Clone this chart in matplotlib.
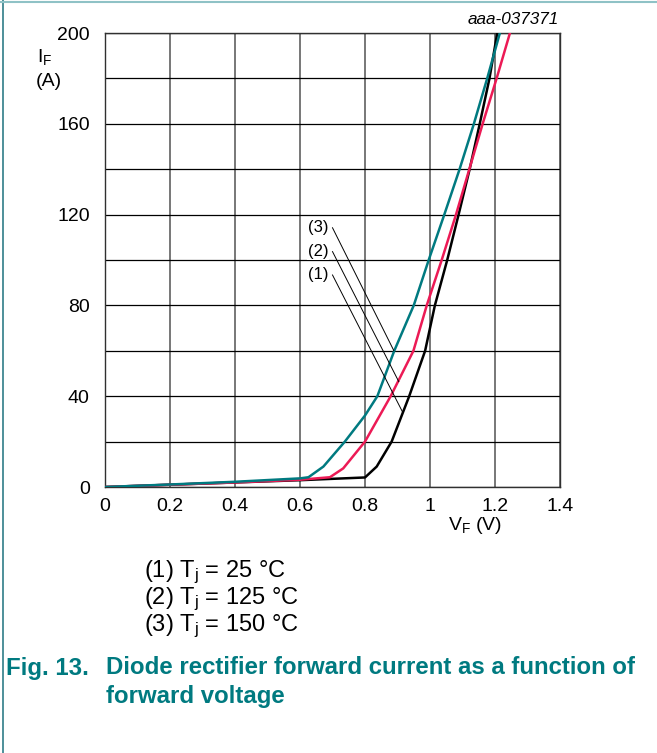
import matplotlib
matplotlib.use("Agg")
import matplotlib.pyplot as plt
from matplotlib.lines import Line2D

plt.rcParams['font.family'] = ['Liberation Sans', 'DejaVu Sans']
plt.rcParams['mathtext.fontset'] = 'custom'
plt.rcParams['mathtext.rm'] = 'Liberation Sans'
plt.rcParams['mathtext.it'] = 'Liberation Sans:italic'

# forward voltage (V) / forward current (A)
vf_25 = [0, 0.2, 0.4, 0.6, 0.8, 0.836, 0.882, 0.936, 0.985, 1.015, 1.053, 1.088, 1.122, 1.153, 1.183, 1.207]
if_25 = [0, 1.0, 2.0, 3.0, 4.2, 9, 20, 40, 60, 80, 100, 120, 140, 160, 180, 200]

vf_125 = [0, 0.2, 0.4, 0.6, 0.692, 0.733, 0.80, 0.879, 0.949, 0.990, 1.036, 1.080, 1.121, 1.162, 1.205, 1.246]
if_125 = [0, 1.0, 2.0, 3.2, 4.3, 8.2, 20, 40, 60, 80, 100, 120, 140, 160, 180, 200]

vf_150 = [0, 0.2, 0.4, 0.6, 0.626, 0.672, 0.738, 0.80, 0.838, 0.890, 0.950, 0.996, 1.044, 1.091, 1.135, 1.176, 1.215]
if_150 = [0, 1.1, 2.3, 3.8, 4.3, 9, 20, 31.5, 40, 60, 80, 100, 120, 140, 160, 180, 200]

curve_labels = ['(1)', '(2)', '(3)']
label_pos = [(0.655, 93.4), (0.655, 103.7), (0.655, 114.2)]
leader_start = [(0.70, 93.4), (0.70, 103.7), (0.70, 114.2)]
leader_end = [(0.915, 33.2), (0.904, 46.4), (0.889, 60)]

x_ticks = [0, 0.2, 0.4, 0.6, 0.8, 1.0, 1.2, 1.4]
x_ticklabels = ['0', '0.2', '0.4', '0.6', '0.8', '1', '1.2', '1.4']
y_ticks = [0, 40, 80, 120, 160, 200]
y_minor = [20, 60, 100, 140, 180]

legend_lines = ['(1) T$_\\mathrm{j}$ = 25 °C', '(2) T$_\\mathrm{j}$ = 125 °C', '(3) T$_\\mathrm{j}$ = 150 °C']

teal = '#007a80'
red = '#ec1a55'

fig = plt.figure(figsize=(6.57, 7.53), dpi=100)
ax = fig.add_axes([105 / 657, 1 - 487 / 753, 455 / 657, 454 / 753])

ax.plot(vf_25, if_25, color='black', lw=1.8, zorder=3)
ax.plot(vf_125, if_125, color=red, lw=1.8, zorder=3)
ax.plot(vf_150, if_150, color=teal, lw=1.8, zorder=3)

ax.set_xlim(0, 1.4)
ax.set_ylim(0, 200)
ax.set_xticks(x_ticks)
ax.set_xticklabels(x_ticklabels)
ax.set_yticks(y_ticks)
ax.set_yticks(y_minor, minor=True)
ax.tick_params(which='both', length=0, labelsize=14)
ax.tick_params(axis='x', pad=8)
ax.tick_params(axis='y', pad=11)
ax.grid(axis='x', color='#606060', lw=1.2)
ax.grid(axis='y', which='both', color='black', lw=0.9)
for s in ax.spines.values():
    s.set_color('#303030')
    s.set_linewidth(1.0)

# curve labels with leader lines
for lab, (tx, ty), (sx, sy), (ex, ey) in zip(curve_labels, label_pos, leader_start, leader_end):
    ax.text(tx, ty, lab, fontsize=12, ha='center', va='center', zorder=4,
            bbox=dict(facecolor='white', edgecolor='none', pad=0.5))
    ax.plot([sx, ex], [sy, ey], color='black', lw=0.7, zorder=4)

# axis titles
fig.text(37 / 657, 1 - 57 / 753, 'I$_\\mathrm{F}$', fontsize=14, ha='left', va='center')
fig.text(49 / 657, 1 - 82 / 753, '(A)', fontsize=14, ha='center', va='center')
fig.text(475 / 657, 1 - 525 / 753, 'V$_\\mathrm{F}$ (V)', fontsize=14, ha='center', va='center')
fig.text(559 / 657, 1 - 19 / 753, 'aaa-037371', fontsize=12.3, style='italic', ha='right', va='center')

# temperature legend
for i, line in enumerate(legend_lines):
    fig.text(144 / 657, 1 - (572 + 27 * i) / 753, line, fontsize=17, ha='left', va='center')

# caption
fig.text(6 / 657, 1 - 668 / 753, 'Fig. 13.', fontsize=17.3, fontweight='bold', color=teal,
         ha='left', va='center')
fig.text(106 / 657, 1 - 668 / 753, 'Diode rectifier forward current as a function of',
         fontsize=17.3, fontweight='bold', color=teal, ha='left', va='center')
fig.text(106 / 657, 1 - 697 / 753, 'forward voltage', fontsize=17.3, fontweight='bold',
         color=teal, ha='left', va='center')

# page frame
fig.add_artist(Line2D([3 / 657, 3 / 657], [0, 1], color='#2f7d88', lw=1.2, transform=fig.transFigure))
fig.add_artist(Line2D([0, 1], [1 - 1.5 / 753, 1 - 1.5 / 753], color='#8fc2c6', lw=1.5,
                      transform=fig.transFigure))

fig.savefig('out.png', dpi=100)
